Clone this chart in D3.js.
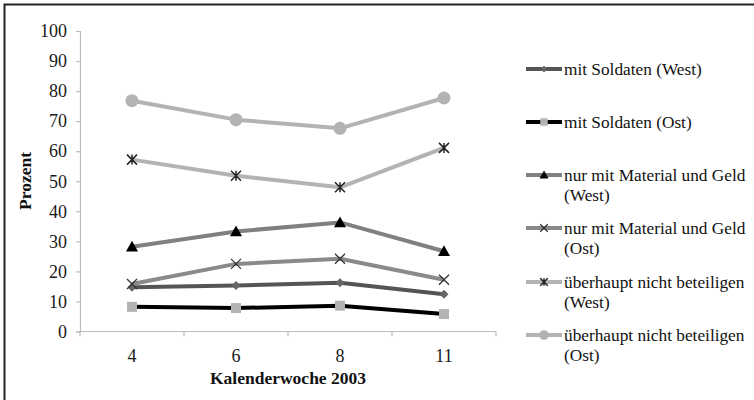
<!DOCTYPE html>
<html><head><meta charset="utf-8">
<script src="https://cdn.jsdelivr.net/npm/d3@7"></script>
<style>body{margin:0;background:#fff}svg{display:block}</style>
</head><body>
<svg id="c" width="754" height="400"></svg>
<script>
const FONT = "Liberation Serif";
const categories = ["4", "6", "8", "11"];
const seriesNames = [
  "mit Soldaten (West)",
  "mit Soldaten (Ost)",
  "nur mit Material und Geld (West)",
  "nur mit Material und Geld (Ost)",
  "überhaupt nicht beteiligen (West)",
  "überhaupt nicht beteiligen (Ost)"
];
const soldatenWest = [14.7, 15.3, 16.2, 12.4];
const soldatenOst = [8.2, 7.8, 8.6, 5.8];
const materialWest = [28.2, 33.3, 36.3, 26.7];
const materialOst = [15.8, 22.5, 24.2, 17.2];
const nichtWest = [57.2, 51.8, 48.0, 61.1];
const nichtOst = [76.8, 70.5, 67.6, 77.7];
const yTicks = [0,10,20,30,40,50,60,70,80,90,100];

const legendLines = [
  ["mit Soldaten (West)"],
  ["mit Soldaten (Ost)"],
  ["nur mit Material und Geld", "(West)"],
  ["nur mit Material und Geld", "(Ost)"],
  ["überhaupt nicht beteiligen", "(West)"],
  ["überhaupt nicht beteiligen", "(Ost)"]
];

const styles = [
  {line:"#555555", width:4, marker:"diamond", fill:"#666666"},
  {line:"#000000", width:4, marker:"square", fill:"#b3b3b3"},
  {line:"#808080", width:4, marker:"triangle", fill:"#000000"},
  {line:"#8a8a8a", width:4, marker:"x", fill:"#333333"},
  {line:"#b3b3b3", width:4, marker:"star", fill:"#222222"},
  {line:"#b3b3b3", width:4, marker:"circle", fill:"#b3b3b3"}
];
const data = [soldatenWest, soldatenOst, materialWest, materialOst, nichtWest, nichtOst];

const svg = d3.select("#c");
svg.append("rect").attr("x",4.5).attr("y",4.5).attr("width",760).attr("height",410)
  .attr("fill","none").attr("stroke","#222").attr("stroke-width",2);

const x = d3.scaleBand().domain(categories).range([80,496]);
const y = d3.scaleLinear().domain([0,100]).range([331.5,31]);

const yAxis = d3.axisLeft(y).tickValues(yTicks).tickSize(4).tickPadding(9);
const gy = svg.append("g").attr("transform","translate(80,0)").call(yAxis);
gy.attr("font-family", FONT).attr("font-size", 18);
gy.select(".domain").attr("stroke","#bdbdbd").attr("stroke-width",1.2);
gy.selectAll(".tick line").attr("stroke","#bdbdbd").attr("stroke-width",1.2);
gy.selectAll("text").attr("fill","#1a1a1a").attr("font-family", FONT);

const xAxis = d3.axisBottom(x).tickSize(0).tickPadding(18);
const gx = svg.append("g").attr("transform","translate(0,331.5)").call(xAxis);
gx.attr("font-family", FONT).attr("font-size", 18);
gx.select(".domain").attr("stroke","#bdbdbd").attr("stroke-width",1.2).attr("d","M80,0H496");
gx.selectAll("text").attr("fill","#1a1a1a").attr("font-family", FONT);
const bounds = categories.map(c => x(c)).concat([x.range()[1]]);
gx.selectAll("line.sep").data(bounds).enter().append("line")
  .attr("x1",d=>d).attr("x2",d=>d).attr("y1",0).attr("y2",5)
  .attr("stroke","#bdbdbd").attr("stroke-width",1.2);

svg.append("text").attr("x",288).attr("y",384).attr("text-anchor","middle").attr("font-family",FONT)
  .attr("font-size",17.5).attr("font-weight","bold").attr("fill","#111").text("Kalenderwoche 2003");
svg.append("text").attr("transform","translate(31,181) rotate(-90)").attr("text-anchor","middle").attr("font-family",FONT)
  .attr("font-size",17.5).attr("font-weight","bold").attr("fill","#111").text("Prozent");

function drawMarker(g, type, cx, cy, fill, scale) {
  scale = scale || 1;
  if (type === "circle") {
    g.append("circle").attr("cx",cx).attr("cy",cy).attr("r",6.5*scale).attr("fill",fill);
  } else if (type === "square") {
    const s = 10*scale;
    g.append("rect").attr("x",cx-s/2).attr("y",cy-s/2).attr("width",s).attr("height",s).attr("fill",fill);
  } else if (type === "triangle") {
    const s = 6*scale;
    g.append("path").attr("d",`M${cx},${cy-s}L${cx+s},${cy+s*0.8}L${cx-s},${cy+s*0.8}Z`).attr("fill",fill);
  } else if (type === "diamond") {
    const s = 4.5*scale;
    g.append("path").attr("d",`M${cx},${cy-s}L${cx+s},${cy}L${cx},${cy+s}L${cx-s},${cy}Z`).attr("fill",fill);
  } else if (type === "x") {
    const s = 5*scale;
    g.append("path").attr("d",`M${cx-s},${cy-s}L${cx+s},${cy+s}M${cx-s},${cy+s}L${cx+s},${cy-s}`)
      .attr("stroke",fill).attr("stroke-width",1.3).attr("fill","none");
  } else if (type === "star") {
    const s = 5*scale;
    g.append("path").attr("d",`M${cx-s},${cy-s}L${cx+s},${cy+s}M${cx-s},${cy+s}L${cx+s},${cy-s}M${cx},${cy-s}L${cx},${cy+s}`)
      .attr("stroke",fill).attr("stroke-width",1.5).attr("fill","none");
  }
}

const line = d3.line().x((d,i)=>x(categories[i]) + x.bandwidth()/2).y(d=>y(d));
data.forEach((vals, si) => {
  const st = styles[si];
  const g = svg.append("g");
  g.append("path").datum(vals).attr("d",line).attr("fill","none")
    .attr("stroke",st.line).attr("stroke-width",st.width).attr("stroke-linejoin","round");
  vals.forEach((v,i) => drawMarker(g, st.marker, x(categories[i]) + x.bandwidth()/2, y(v), st.fill));
});

const legendY = [69, 122, 175, 228, 282, 335];
legendLines.forEach((lines, si) => {
  const st = styles[si];
  const g = svg.append("g");
  const ly = legendY[si];
  g.append("line").attr("x1",526).attr("x2",562).attr("y1",ly).attr("y2",ly)
    .attr("stroke",st.line).attr("stroke-width",st.width);
  drawMarker(g, st.marker, 544, ly, st.fill, 0.75);
  lines.forEach((t, k) => {
    g.append("text").attr("x",564).attr("y",ly + 6 + k*20).attr("font-size",17.3).attr("font-family",FONT)
      .attr("fill","#111").text(t);
  });
});
</script>
</body></html>
